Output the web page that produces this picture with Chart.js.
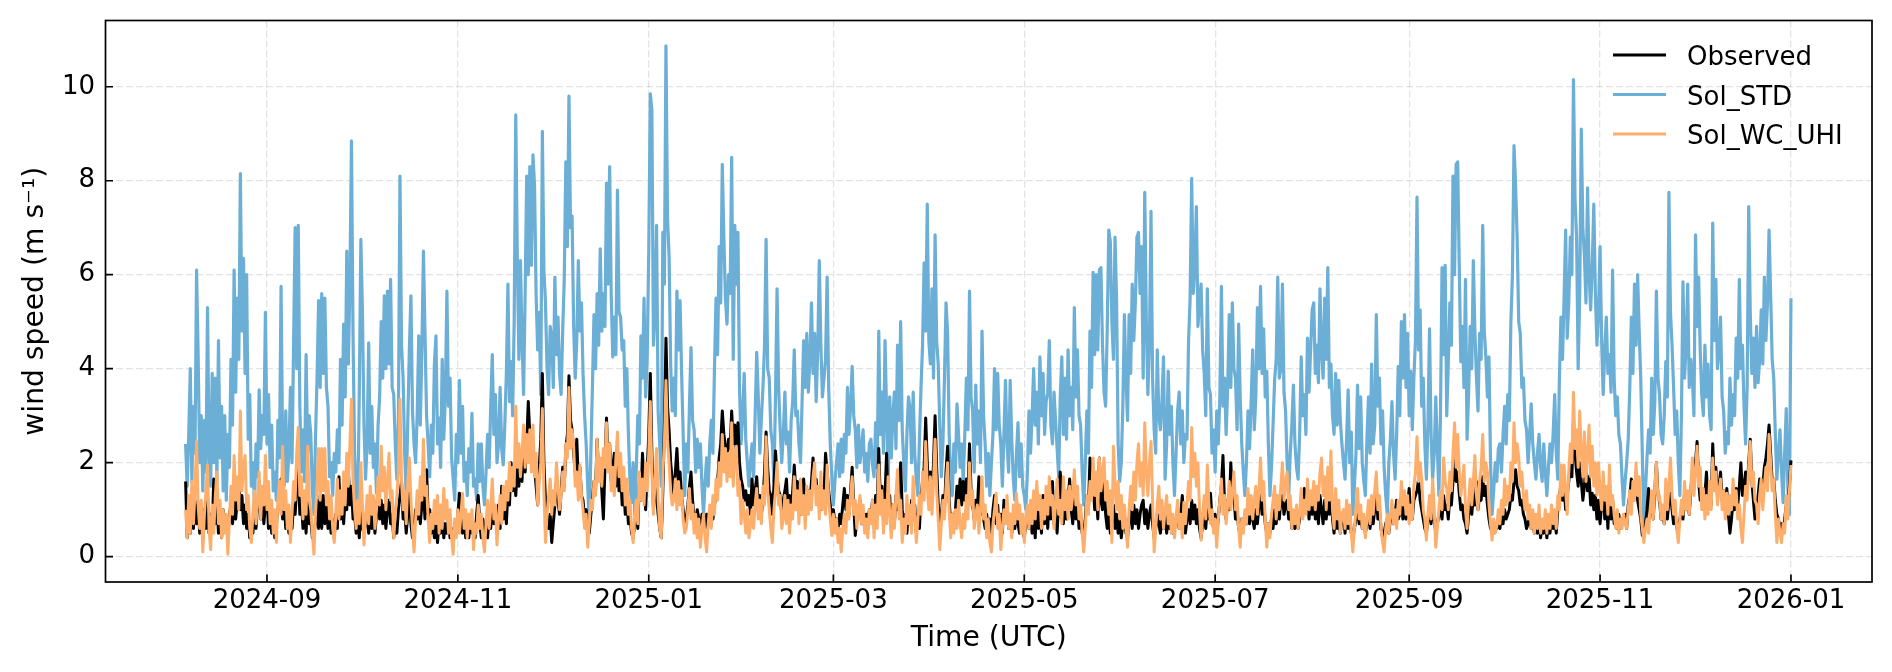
<!DOCTYPE html>
<html>
<head>
<meta charset="utf-8">
<script src="https://cdn.jsdelivr.net/npm/chart.js@4.4.1/dist/chart.umd.min.js"></script>
<style>
html,body{margin:0;padding:0;background:#fff;}
#wrap{width:1892px;height:672px;position:relative;}
</style>
</head>
<body>
<div id="wrap"><canvas id="c" width="1892" height="672"></canvas></div>
<script>
// ---------------- data (12-hourly values, first value 2024-08-06 00:00 UTC) ----------------
const seriesStart = '2024-08-06T00:00:00Z';
const stepHours = 12;
const seriesLabels = ['Observed', 'Sol_STD', 'Sol_WC_UHI'];
const xTickLabels = ['2024-09','2024-11','2025-01','2025-03','2025-05','2025-07','2025-09','2025-11','2026-01'];
const yTicks = [0, 2, 4, 6, 8, 10];

const obsWind = [
1.6,0.4,0.8,0.5,1.0,0.6,1.2,0.7,1.1,0.5,0.9,0.4,1.0,0.6,1.3,0.5,0.9,0.6,1.65,0.7,
1.2,0.5,0.9,0.4,1.0,0.6,0.8,0.4,0.9,1.1,0.7,1.3,0.8,1.2,1.65,1.0,1.3,0.7,1.1,0.6,
0.9,0.4,0.7,0.5,1.0,0.6,1.1,1.5,0.8,1.2,0.7,1.1,1.35,0.6,1.0,0.5,0.8,0.4,0.7,1.0,
1.3,1.65,0.8,1.2,0.6,1.0,0.5,0.8,0.6,1.1,0.9,1.5,1.9,0.9,1.2,0.6,1.0,0.5,1.3,0.7,
0.8,0.4,0.5,0.7,1.2,0.6,1.3,0.6,1.3,0.7,1.2,0.6,0.9,0.5,0.8,0.4,0.9,0.6,1.7,0.8,
1.2,0.7,1.3,1.0,1.85,1.1,1.5,0.8,0.9,0.5,0.8,0.4,1.1,0.6,0.5,0.7,1.0,0.5,0.9,0.6,
1.0,0.5,0.9,1.5,0.8,1.2,0.7,1.1,0.6,1.0,1.2,0.7,0.9,0.4,0.7,0.5,1.0,1.3,1.6,0.8,
1.0,0.5,0.9,1.35,0.7,0.4,0.6,1.0,0.8,1.2,0.7,1.1,1.4,0.8,1.85,0.9,1.0,0.5,0.8,0.4,
0.7,0.3,0.8,0.5,0.9,0.4,0.7,0.5,0.8,0.4,0.6,0.3,0.7,0.5,0.9,1.35,0.8,0.5,0.8,0.4,
0.7,0.4,0.8,0.5,0.7,0.4,0.9,1.3,0.7,0.4,0.8,0.5,0.6,0.4,0.9,0.6,1.2,0.7,1.0,0.5,
1.1,0.6,1.5,0.8,1.2,0.7,1.4,1.1,2.0,1.4,1.8,1.3,1.9,1.5,2.2,1.6,2.5,1.8,2.4,3.3,
2.6,2.0,2.4,1.9,1.5,1.1,1.9,2.5,3.9,2.0,1.2,0.8,0.6,0.9,0.3,0.7,1.1,1.6,1.2,0.9,
1.4,1.9,1.5,2.3,2.6,3.85,2.9,2.7,2.2,1.8,2.5,1.6,1.9,1.3,1.2,0.8,1.0,0.6,0.5,0.9,
1.2,1.6,1.4,2.5,1.7,2.0,1.4,0.8,1.9,2.95,2.0,2.4,1.6,1.9,2.2,1.5,2.1,1.4,1.8,1.1,
1.45,0.9,1.2,0.7,0.9,0.5,0.4,0.7,1.0,0.6,1.6,1.2,2.2,1.5,1.0,1.8,2.6,3.9,2.2,1.0,
1.5,1.3,0.9,0.6,0.4,1.4,2.8,4.65,3.2,2.7,2.0,1.65,1.3,1.8,2.3,1.6,1.8,1.3,1.0,0.7,
0.8,1.1,1.5,1.8,1.2,0.8,0.7,1.0,0.8,0.6,0.9,0.8,0.6,0.9,0.7,1.0,1.0,0.8,1.1,1.3,
1.6,2.1,2.4,3.1,2.6,2.35,2.0,2.5,2.3,3.1,2.4,2.8,2.2,2.85,2.0,1.65,1.5,1.2,1.4,1.1,
1.3,0.9,1.65,1.1,1.4,1.7,1.1,1.3,0.9,1.2,1.8,2.65,1.9,1.4,1.3,0.9,1.5,2.25,1.7,1.4,
1.3,0.9,1.2,1.4,1.65,1.0,1.3,0.8,1.4,1.95,1.4,1.6,1.3,0.9,1.2,1.65,1.2,1.0,1.4,1.1,
1.6,2.1,1.5,1.65,1.2,1.4,1.0,1.5,1.3,2.2,1.8,1.4,1.1,0.8,1.0,0.7,0.8,0.6,0.9,0.7,
1.1,1.45,1.0,1.3,0.9,1.4,1.9,1.1,0.45,0.8,1.0,1.2,0.7,0.9,0.6,0.9,0.7,1.0,0.8,1.2,
0.7,1.3,1.0,2.3,1.2,1.5,0.8,1.3,2.2,1.0,1.3,0.6,1.1,0.7,1.3,1.0,1.5,2.0,1.0,0.6,
0.9,0.5,1.0,0.7,1.2,0.8,1.1,0.5,0.9,0.6,1.3,1.6,1.9,2.95,2.0,1.3,1.8,1.2,2.0,3.0,
1.9,1.1,0.7,0.9,1.3,1.0,1.8,2.35,1.2,0.7,0.9,0.6,1.0,1.5,1.2,1.65,1.1,1.6,1.2,1.65,
1.3,2.4,1.4,1.1,0.8,1.2,1.0,1.7,0.9,1.3,0.8,0.6,0.9,0.5,0.8,0.5,1.0,1.3,0.7,1.1,
0.6,0.9,0.5,1.2,0.8,1.1,0.6,0.9,0.5,0.8,0.6,1.0,0.7,0.5,0.8,0.6,0.4,0.7,0.9,0.6,
1.0,0.5,0.9,0.4,1.2,0.6,1.0,0.5,1.3,0.7,1.1,0.6,1.4,0.8,1.6,0.7,1.0,0.5,1.2,1.8,
1.1,0.7,1.3,0.8,1.2,1.65,1.0,0.7,1.4,0.8,1.2,0.6,0.9,0.5,0.5,0.8,1.3,1.0,2.1,1.4,
1.6,1.0,1.4,0.8,2.1,1.2,1.0,1.65,0.9,0.6,1.0,0.5,0.8,1.1,0.6,0.9,0.5,0.8,0.4,0.7,
0.9,0.5,0.4,0.8,1.0,0.6,1.1,0.7,1.0,0.6,0.9,1.1,1.2,0.7,1.0,0.6,0.9,1.1,0.7,0.4,
0.6,0.9,0.7,0.5,0.8,0.6,0.9,0.5,0.8,0.6,0.9,0.5,0.6,0.8,1.0,0.6,0.9,1.3,0.8,0.5,
0.8,1.0,0.7,1.2,0.8,1.1,0.7,1.0,0.6,0.4,0.7,0.9,0.6,1.1,0.8,1.35,0.8,0.6,0.9,0.5,
0.8,1.2,1.5,2.15,1.1,0.8,1.2,1.0,2.0,1.2,1.3,0.8,1.0,0.6,0.5,0.8,0.6,0.9,0.7,1.0,
0.7,1.1,0.8,0.6,1.0,0.7,1.1,1.3,0.9,1.2,0.7,0.5,0.7,0.5,0.8,0.6,1.0,0.7,1.1,0.8,
1.2,1.3,0.9,1.1,1.2,0.8,1.0,0.6,0.8,0.6,0.9,0.6,0.8,1.1,0.9,1.45,1.0,1.3,0.8,1.2,
0.9,1.4,0.8,1.2,0.7,1.3,1.0,0.7,1.2,0.8,1.3,0.9,1.5,0.8,0.5,1.0,0.6,0.9,0.5,0.8,
0.9,0.5,1.0,0.6,0.9,0.5,0.4,0.6,0.8,1.1,0.7,0.9,0.6,0.8,0.5,0.7,1.0,0.6,0.9,0.7,
1.0,1.35,0.8,1.0,0.6,0.4,0.5,0.7,0.8,0.5,0.8,1.0,0.7,0.9,1.2,0.8,0.9,1.2,0.8,1.1,
0.8,1.1,1.45,0.9,0.8,1.2,1.3,1.4,1.65,1.2,1.0,0.8,0.6,0.5,0.8,1.0,0.7,1.1,0.8,0.5,
0.7,0.9,1.0,0.8,1.3,1.0,1.1,0.8,1.3,1.1,1.6,2.2,1.6,1.8,1.35,1.0,1.1,0.8,0.7,0.5,
0.9,1.2,0.9,1.3,1.1,1.6,1.0,1.3,1.2,1.7,1.3,1.5,1.1,0.8,0.6,0.7,0.5,0.7,0.6,0.8,
0.6,0.9,0.7,1.0,0.8,0.9,1.0,1.3,1.2,1.6,1.85,1.5,1.4,1.1,1.2,0.9,0.8,0.6,0.7,0.9,
0.6,0.8,0.5,0.7,0.5,0.8,0.4,0.7,0.5,0.8,0.4,0.7,0.5,0.9,0.6,0.8,0.5,1.0,1.2,1.6,
1.2,1.5,1.0,1.3,1.6,2.0,1.7,2.9,2.2,1.8,1.5,2.0,1.6,1.2,1.5,2.0,1.4,1.7,1.1,1.35,
1.0,1.3,0.8,1.2,0.7,1.1,1.45,0.8,1.3,0.6,1.45,0.8,1.2,0.7,0.9,0.6,0.9,0.6,0.8,0.7,
0.9,0.6,1.1,1.3,1.65,1.2,1.4,1.65,1.2,1.0,0.8,0.45,0.5,0.7,1.0,1.45,0.9,1.2,0.8,1.4,
2.0,1.3,1.2,0.8,0.9,0.7,1.1,0.8,1.2,1.35,1.0,0.7,0.9,0.6,0.6,0.8,1.0,0.8,1.35,1.0,
1.3,0.9,1.4,1.8,1.5,2.0,2.45,1.6,1.2,1.45,1.0,1.3,1.8,1.2,1.5,1.1,2.4,1.6,1.9,1.3,
1.5,1.8,1.2,1.4,1.0,1.45,0.9,0.5,0.8,1.2,1.0,1.45,1.1,1.5,2.0,1.3,1.5,1.8,1.4,2.0,
2.5,1.6,1.2,0.8,1.0,1.3,1.65,1.2,1.5,1.9,2.1,2.4,2.8,2.2,1.6,1.65,1.2,0.9,0.8,0.6,
0.7,0.5,0.8,1.1,1.0,1.5,2.05
];

const stdWind = [
2.4,1.5,2.6,4.0,1.6,3.2,2.2,6.1,4.3,2.0,3.0,1.4,2.9,1.8,5.3,2.2,1.5,3.9,2.0,3.8,
1.6,4.6,2.1,3.2,1.4,3.0,1.2,2.6,1.9,4.2,2.8,6.1,3.5,5.5,4.2,8.15,4.8,6.35,3.9,6.0,
2.5,3.45,1.5,2.0,1.1,2.4,1.7,3.55,2.3,3.0,2.6,5.2,2.4,3.45,1.9,2.8,1.4,1.8,1.2,2.9,
2.1,5.75,2.3,1.5,3.1,1.6,2.2,3.6,2.0,4.5,7.0,4.0,7.05,3.2,1.8,2.7,1.6,4.3,2.2,3.0,
2.6,1.4,0.9,2.5,3.8,5.45,3.6,5.6,3.9,5.5,3.6,3.2,1.7,2.0,1.3,2.2,1.8,2.7,2.0,4.2,
2.8,4.95,3.4,6.5,4.1,5.8,8.85,4.7,2.2,1.4,0.9,3.5,6.75,5.25,2.8,1.65,2.4,4.55,2.2,3.2,
1.9,2.4,1.35,2.8,3.4,5.0,3.8,5.55,4.0,5.65,4.1,5.9,3.6,3.45,2.4,1.65,2.9,8.1,4.5,3.8,
2.2,1.3,2.9,4.4,5.55,3.1,2.4,2.0,3.0,4.7,2.8,4.4,6.5,4.75,3.0,2.4,1.7,2.8,2.2,4.1,
4.7,2.4,2.95,1.9,4.2,2.5,3.4,5.65,3.2,3.8,2.1,1.65,1.2,2.6,2.0,3.75,2.2,3.2,1.6,2.0,
1.3,2.3,1.8,3.05,1.5,1.65,1.2,2.4,1.6,2.4,1.5,1.1,1.8,2.6,1.9,3.2,4.3,2.6,3.45,2.0,
2.4,3.6,2.3,1.95,2.8,3.9,5.8,3.3,4.15,3.0,5.0,9.4,6.35,4.2,6.3,4.6,3.45,5.6,8.1,6.0,
8.3,6.2,8.55,7.9,5.6,4.4,5.2,3.45,9.05,6.1,5.4,4.0,3.45,4.9,4.65,3.6,5.95,4.3,5.1,3.9,
3.45,4.8,5.9,8.4,6.6,9.8,7.0,7.25,4.9,3.8,4.6,6.3,4.8,5.4,3.9,3.0,2.4,1.5,0.65,2.2,
3.6,5.15,4.0,5.6,4.5,6.55,4.8,5.6,4.9,7.95,5.8,8.3,5.6,4.25,5.1,4.3,7.8,5.2,5.1,4.4,
4.6,3.2,4.0,2.6,1.6,1.15,2.0,0.9,1.8,3.0,2.4,4.7,3.8,5.5,3.4,4.2,6.5,9.85,9.5,4.5,
5.2,7.05,3.1,2.4,1.5,6.9,5.8,10.87,7.2,6.4,4.1,3.1,3.8,3.0,5.65,4.4,5.45,3.9,2.6,1.3,
2.4,1.8,3.2,4.45,2.9,2.7,1.8,2.5,1.9,2.4,1.5,0.9,1.6,2.1,1.5,2.4,2.9,2.2,4.0,5.5,
4.3,6.6,5.4,8.35,6.8,5.5,4.95,6.0,5.6,8.5,4.2,7.05,5.8,6.9,3.6,2.4,3.0,3.9,2.5,2.0,
1.5,2.0,2.4,1.7,3.0,4.35,3.4,2.2,2.95,3.6,4.5,6.75,4.0,3.8,2.7,2.4,1.6,3.4,5.7,3.6,
2.7,2.0,2.6,3.5,2.4,2.65,1.8,2.9,3.3,4.4,3.0,3.1,2.4,2.0,3.3,4.6,3.6,4.75,3.5,4.2,
5.4,3.9,4.75,3.3,4.4,6.3,4.5,3.4,3.8,4.2,5.95,3.6,2.4,1.7,1.1,1.6,2.0,2.4,1.7,2.5,
1.8,2.6,2.2,3.6,2.6,3.2,4.05,3.0,2.7,1.9,2.8,2.0,2.3,2.7,1.8,2.2,1.6,2.4,2.5,1.95,
1.7,2.85,1.9,4.8,2.6,3.5,2.2,4.6,3.1,1.6,3.4,2.1,3.0,3.5,2.3,4.5,2.9,5.0,2.7,2.0,
1.4,2.6,3.4,3.15,2.0,3.5,2.2,1.65,1.3,2.5,3.6,4.5,6.25,4.8,7.5,4.6,4.1,5.7,3.8,6.85,
4.6,4.1,2.8,1.7,2.4,3.8,5.4,4.75,2.6,1.65,1.3,2.4,1.8,3.25,2.6,1.9,2.4,1.6,2.6,3.8,
2.7,5.65,3.4,3.1,1.8,3.65,2.4,3.1,2.0,4.8,3.0,2.4,1.5,2.2,1.3,2.0,2.6,4.0,2.7,3.9,
2.8,2.4,1.5,2.6,3.75,2.4,1.8,3.75,2.5,1.65,1.2,2.2,2.85,1.7,2.4,1.5,1.3,1.0,1.8,3.1,
2.2,3.0,4.0,2.8,3.5,2.4,4.25,3.0,3.9,2.6,3.3,3.5,4.6,2.8,2.4,3.5,2.9,2.3,1.7,3.4,
4.25,2.6,3.8,2.5,4.4,3.0,3.6,2.7,5.3,3.4,4.4,3.0,2.8,1.8,1.1,2.0,3.1,2.2,4.8,3.6,
6.05,4.3,6.0,4.4,6.1,6.15,4.5,3.5,3.2,4.8,6.95,6.7,5.0,4.2,6.8,5.45,2.4,1.6,2.0,3.2,
5.15,3.8,2.9,5.15,3.9,5.8,4.6,5.4,6.8,6.9,5.6,6.6,3.8,7.75,5.0,3.45,4.6,7.35,3.8,2.7,
2.2,4.4,3.0,2.7,3.3,4.25,1.65,2.4,3.95,2.6,3.2,2.0,1.3,2.2,3.1,3.5,2.4,3.1,2.0,2.6,
2.5,4.6,5.5,8.05,5.6,6.2,7.45,4.9,5.45,5.8,4.4,3.9,3.0,5.7,3.6,3.45,2.2,2.7,1.8,3.1,
2.4,3.4,5.75,3.2,3.8,2.6,3.6,5.15,3.6,5.4,4.0,3.8,2.7,4.95,3.4,2.4,1.8,1.3,2.0,3.1,
2.3,3.3,4.4,2.7,3.4,5.3,4.0,5.75,3.9,4.85,3.4,3.95,2.4,1.3,1.9,2.8,3.75,4.2,5.95,3.8,
4.0,5.8,3.5,3.1,2.0,1.3,2.2,2.8,3.65,2.4,1.9,1.65,2.6,4.25,3.0,3.45,2.6,4.65,3.5,4.4,
5.25,5.4,3.9,4.5,3.7,5.7,4.4,3.8,5.5,4.2,6.15,3.6,4.1,3.0,2.6,3.9,2.8,3.75,2.9,2.4,
2.0,1.65,2.5,3.55,2.0,2.65,0.9,1.5,2.2,3.65,2.3,3.4,2.0,1.6,1.3,2.5,3.4,2.2,4.1,2.4,
2.8,5.15,3.2,3.8,2.4,3.1,1.9,1.3,0.9,2.0,2.5,3.3,2.2,1.65,2.6,4.05,3.0,5.0,3.8,5.15,
3.6,4.75,3.0,3.95,2.7,3.8,4.6,7.65,4.4,5.25,3.2,3.8,2.4,1.65,2.8,4.85,2.6,1.65,2.2,3.4,
2.3,1.3,3.0,6.15,4.3,6.2,3.0,4.1,5.4,4.5,8.1,6.0,8.35,8.4,6.2,4.15,4.9,3.6,5.9,2.5,
3.5,4.9,4.0,6.3,4.8,3.8,3.1,4.75,4.2,7.05,4.8,4.25,3.4,4.25,2.0,0.9,1.4,2.0,1.6,2.3,
2.4,1.8,2.6,3.2,2.4,3.45,2.9,5.0,6.0,8.75,7.9,6.8,5.0,4.75,3.6,3.8,2.9,2.7,2.0,2.6,
3.25,2.4,2.0,1.65,2.2,2.6,1.9,1.6,2.4,1.8,1.3,1.9,2.4,2.0,2.6,3.45,2.2,1.65,3.8,5.1,
4.2,5.5,6.95,4.65,5.4,6.8,6.0,10.15,7.6,6.8,4.0,5.6,9.1,7.0,6.4,5.4,7.85,6.0,5.25,6.2,
7.5,5.6,4.5,5.2,6.6,4.6,3.45,4.4,5.1,3.9,4.3,3.5,6.1,3.8,3.0,3.4,2.6,2.4,1.7,1.1,
1.6,2.0,2.5,3.6,5.1,3.9,5.8,4.5,6.0,4.8,3.8,2.2,0.65,1.4,2.1,2.7,2.2,3.8,2.6,3.3,
5.65,3.8,3.45,2.6,2.4,3.0,4.15,3.4,7.75,5.2,4.5,3.6,2.6,3.1,2.0,1.3,3.0,5.85,3.8,4.5,
5.8,3.6,4.2,3.8,3.0,6.85,4.9,5.95,4.4,3.45,3.0,4.5,3.4,4.1,3.0,2.7,7.1,4.6,5.9,4.0,
4.4,5.1,3.4,3.1,2.2,2.65,2.4,3.8,2.8,3.45,3.0,4.65,3.8,5.9,4.0,4.5,3.2,2.4,3.6,7.45,
5.2,3.9,4.65,3.6,4.9,3.7,4.2,5.25,4.1,5.95,4.6,5.4,6.95,5.6,4.2,3.8,2.6,1.65,2.2,2.7,
1.8,1.15,2.2,3.15,1.5,0.9,5.5
];

const uhiWind = [
1.0,0.4,1.3,0.5,1.6,0.7,1.4,2.45,1.1,0.6,1.2,0.1,0.9,1.4,1.95,0.6,0.15,1.1,0.5,1.3,
1.8,0.7,1.2,0.4,1.0,0.5,0.9,0.05,0.8,1.5,0.9,2.15,1.2,1.7,1.0,3.1,1.4,1.9,2.15,1.0,
1.3,0.6,0.3,0.9,1.4,0.7,1.2,1.8,0.8,1.5,1.1,2.15,1.0,1.6,0.7,1.2,0.5,1.0,0.3,1.2,
1.6,0.9,2.35,1.0,1.4,0.6,1.1,0.3,0.9,1.6,1.2,2.2,2.75,1.3,1.7,0.8,1.4,0.9,2.35,1.2,
1.0,0.5,0.05,0.9,1.5,2.3,1.2,2.3,1.4,2.3,1.1,1.6,0.8,1.3,0.6,0.3,0.9,1.65,0.8,1.4,
0.9,1.8,1.1,2.2,1.5,2.4,3.35,1.6,1.0,0.6,1.2,0.7,2.0,1.1,0.25,0.8,1.3,0.7,1.5,0.9,
1.3,0.6,1.0,1.7,1.1,2.35,1.4,1.9,1.0,1.6,2.2,1.2,1.4,0.4,0.9,1.3,1.8,3.35,1.6,1.0,
1.4,0.7,1.6,2.1,1.2,0.6,0.1,0.8,1.4,0.9,1.7,1.2,2.5,1.3,1.5,0.8,0.3,0.9,0.6,1.2,
0.7,1.3,0.5,1.1,0.6,1.45,0.8,1.2,0.5,1.0,0.4,0.05,0.8,0.4,1.0,0.5,0.9,1.35,0.6,1.0,
0.4,0.9,0.6,1.0,0.15,0.7,0.5,1.1,0.6,0.9,0.4,0.1,0.7,1.2,0.6,1.0,1.65,0.8,1.1,0.25,
0.8,1.3,0.7,1.5,1.0,1.6,1.2,2.0,1.4,1.9,1.5,3.2,1.9,2.4,1.7,2.2,2.8,1.9,2.6,2.0,
2.7,1.8,2.8,1.7,2.2,1.1,1.6,2.0,3.15,1.4,0.3,0.9,1.3,1.65,0.9,1.4,1.1,2.0,1.5,1.0,
1.3,1.8,1.4,2.4,2.1,3.6,2.3,2.7,2.35,1.5,1.8,1.2,1.95,1.3,1.0,0.6,0.9,0.2,0.7,1.2,
1.0,1.6,1.3,2.5,1.6,2.1,1.5,2.3,1.9,2.85,1.8,2.4,1.4,1.9,1.3,2.1,2.65,1.7,2.2,1.4,
1.9,1.1,1.65,0.9,1.2,0.6,0.3,0.8,1.2,0.7,1.8,1.2,1.65,1.1,2.0,1.4,2.2,3.3,1.8,0.9,
1.6,2.3,1.2,0.6,0.4,1.8,2.4,3.75,2.5,2.0,1.4,1.1,1.2,1.65,1.0,1.6,1.1,1.4,0.8,0.5,
0.6,1.0,1.45,0.8,1.1,0.5,0.9,0.4,0.8,0.2,0.6,0.9,0.4,0.1,0.7,1.1,0.6,1.3,0.9,1.65,
1.2,2.0,1.5,2.6,1.8,2.3,1.6,2.2,1.7,2.85,1.5,2.2,2.35,1.3,1.6,0.7,1.2,0.9,0.5,1.0,
0.4,0.65,1.0,0.6,1.1,1.45,0.8,1.2,0.7,1.5,1.1,2.55,1.4,1.0,0.6,0.3,1.0,1.4,2.0,1.1,
1.3,0.6,0.8,1.3,0.7,1.2,0.5,1.1,0.8,1.7,1.0,1.4,0.7,1.65,0.9,1.3,0.6,1.5,0.9,1.4,
1.0,1.7,2.0,1.1,1.5,0.8,1.8,1.0,1.4,0.9,1.95,1.2,0.8,0.45,0.9,0.5,0.8,0.3,0.6,0.1,
0.6,0.9,0.5,1.2,0.8,1.3,1.7,0.9,1.2,0.6,1.0,1.3,0.7,1.1,0.5,0.8,0.4,1.0,0.7,1.2,
0.4,1.1,0.6,1.95,0.9,1.4,0.5,1.2,0.7,1.7,0.9,0.4,1.1,0.6,1.3,1.85,0.8,1.2,0.3,0.8,
0.5,1.3,0.7,1.1,0.5,1.7,0.9,0.3,0.8,1.3,0.9,1.8,1.2,2.45,1.5,1.0,1.7,0.9,1.6,2.5,
1.4,0.8,0.15,0.7,1.2,0.8,1.5,2.0,1.0,0.4,0.9,0.5,1.0,0.6,1.2,0.7,0.4,0.9,0.6,1.3,
0.8,2.0,1.1,1.4,0.6,0.9,1.1,0.5,1.0,1.7,0.8,1.1,0.4,0.8,0.3,0.1,0.7,1.0,1.35,0.6,
0.9,0.15,0.6,1.0,0.7,1.3,0.6,0.9,0.4,1.1,0.7,1.35,0.8,1.1,0.5,0.9,0.3,0.8,1.1,0.6,
1.2,0.7,1.4,0.8,1.6,1.0,1.3,0.6,1.2,0.8,1.5,0.9,1.7,1.1,1.3,0.6,1.1,1.65,0.9,1.2,
0.7,1.7,1.0,1.4,0.8,1.5,1.0,1.3,1.85,1.1,1.5,0.8,1.1,0.5,0.1,0.6,1.3,0.9,1.6,1.2,
2.1,1.3,1.8,1.0,2.1,1.4,1.7,2.1,1.2,1.6,0.9,1.4,0.3,2.35,1.5,1.0,1.6,0.8,1.3,0.6,
1.1,0.6,0.2,1.0,1.5,1.0,1.8,1.2,2.0,2.4,1.5,2.0,1.3,2.85,1.8,1.3,2.0,2.45,1.2,0.1,
0.6,1.1,1.5,0.8,1.2,0.6,1.0,1.3,0.7,1.1,0.5,0.9,0.4,0.8,1.2,0.6,0.9,0.4,1.15,0.7,
1.1,1.6,1.2,2.75,1.7,2.2,1.5,2.0,1.0,0.35,0.9,1.3,0.8,1.95,1.1,0.7,1.0,0.5,0.8,0.2,
0.8,1.2,1.65,0.9,1.3,0.7,1.1,1.6,1.0,1.4,1.8,1.0,1.3,0.6,0.2,0.8,0.5,1.0,0.7,1.45,
0.9,1.3,0.8,1.2,1.5,0.9,1.4,2.1,1.2,1.6,0.8,0.2,0.7,0.4,0.9,1.2,1.5,0.8,1.3,1.0,
1.5,2.0,1.2,1.6,1.8,1.0,1.3,0.6,1.0,0.7,1.1,0.6,0.9,1.45,0.8,1.2,0.9,1.65,1.0,1.4,
1.1,1.6,1.0,1.5,1.2,1.8,2.1,1.3,1.7,1.0,1.9,1.2,2.25,1.0,0.6,1.45,0.8,1.2,0.5,0.9,
1.0,0.6,1.2,0.7,1.1,0.5,0.1,0.6,1.0,1.45,0.8,1.1,0.6,0.9,0.4,0.8,1.2,0.7,1.3,0.9,
1.4,1.8,1.0,1.3,0.6,0.3,0.1,0.6,0.9,0.5,0.9,1.2,0.7,1.0,0.6,1.2,0.9,1.6,1.1,1.4,
0.9,1.3,0.7,1.1,0.8,1.5,1.8,2.55,1.6,2.0,1.65,1.0,0.8,0.35,0.9,1.3,0.8,1.65,1.0,0.2,
0.6,1.0,1.4,1.0,2.1,1.6,1.45,1.0,1.8,1.4,2.2,2.85,1.9,2.6,1.8,1.3,1.6,1.95,1.0,0.6,
1.2,1.65,1.1,1.6,2.15,1.3,1.0,1.6,1.9,2.6,1.6,2.0,1.8,1.1,0.7,0.35,0.8,0.5,0.65,1.0,
0.7,1.2,0.9,1.65,1.1,1.5,1.2,2.0,1.6,2.85,2.0,2.4,2.1,1.5,1.8,1.3,1.0,1.4,0.8,1.1,
0.6,1.0,0.5,0.9,0.6,1.1,0.5,0.8,0.6,1.0,0.5,0.9,0.6,1.1,0.7,1.0,0.6,1.3,1.0,1.95,
1.3,1.95,1.4,0.9,1.8,2.4,2.0,3.5,2.3,2.7,1.9,3.1,2.2,1.7,2.65,1.6,2.2,2.8,1.7,2.35,
1.5,2.0,1.3,2.0,1.4,1.0,1.8,1.2,1.5,0.9,1.95,1.1,1.3,0.9,0.6,1.0,0.5,0.8,0.6,0.9,
0.7,0.6,1.0,1.4,0.9,1.6,1.2,2.0,1.3,1.7,0.9,0.6,0.3,0.6,0.8,0.5,1.0,1.4,0.8,1.5,
2.0,1.2,1.3,0.8,1.1,0.7,1.65,1.0,1.5,2.1,1.3,0.9,1.2,0.6,0.3,0.8,1.2,0.9,1.6,1.0,
1.4,0.9,1.5,2.1,1.3,1.8,2.35,1.5,1.9,1.0,1.45,0.8,1.3,0.9,1.6,1.0,2.1,1.4,1.8,1.1,
1.4,1.65,1.0,1.4,0.8,1.35,0.9,1.3,1.0,1.65,1.1,1.4,0.8,1.1,0.6,0.3,0.9,1.5,1.2,1.9,
2.45,1.5,1.8,1.2,1.1,0.7,1.3,1.65,1.0,1.5,1.9,1.4,2.6,2.0,1.4,1.65,0.9,0.3,0.8,0.5,
0.3,0.7,0.5,1.3,0.8,1.4,1.95
];

// ---------------- chart ----------------
const DAY = 86400000;
const t0 = Date.parse(seriesStart);
const toPoints = arr => arr.map((v, i) => ({ x: t0 + i * stepHours * 3600000, y: v }));
const monthMs = s => { const p = s.split('-').map(Number); return Date.UTC(p[0], p[1] - 1, 1); };
const xTickMs = xTickLabels.map(monthMs);
const X_MIN = monthMs('2024-09') - 51.6 * DAY;
const X_MAX = monthMs('2026-01') + 25.9 * DAY;
const Y_MIN = -0.54, Y_MAX = 11.41;

const FONT_FAMILY = "'DejaVu Sans', sans-serif";
const FS = 26;      // tick labels and legend
const FS_T = 28.2;  // axis titles
Chart.defaults.font.family = FONT_FAMILY;
Chart.defaults.color = '#000';

const colors = ['#000000', '#6baed6', '#fdae6b'];

const framePlugin = {
  id: 'mplFrame',
  afterDraw(chart) {
    const { ctx, chartArea: a, scales: { x, y } } = chart;
    ctx.save();
    ctx.strokeStyle = '#000';
    ctx.lineWidth = 1.7;
    ctx.lineCap = 'butt';
    ctx.beginPath();
    y.ticks.forEach(t => { const p = y.getPixelForValue(t.value); ctx.moveTo(a.left, p); ctx.lineTo(a.left + 7.5, p); });
    x.ticks.forEach(t => { const p = x.getPixelForValue(t.value); ctx.moveTo(p, a.bottom); ctx.lineTo(p, a.bottom - 7.5); });
    ctx.stroke();
    ctx.strokeRect(a.left, a.top, a.right - a.left, a.bottom - a.top);

    // legend inside the axes (upper right, no frame)
    ctx.font = FS + 'px ' + FONT_FAMILY;
    ctx.textAlign = 'left';
    ctx.textBaseline = 'alphabetic';
    const lx0 = a.right - 259, lx1 = a.right - 206, tx = a.right - 185;
    chart.data.datasets.forEach((ds, i) => {
      const yb = a.top + 44.5 + i * 39.5;
      const yl = yb - 10;
      ctx.strokeStyle = ds.borderColor;
      ctx.lineWidth = 3.2;
      ctx.beginPath(); ctx.moveTo(lx0, yl); ctx.lineTo(lx1, yl); ctx.stroke();
      ctx.fillStyle = '#000';
      ctx.fillText(ds.label, tx, yb);
    });
    ctx.restore();
  }
};

const mkDs = (label, arr, color, order, w) => ({
  label, data: toPoints(arr), borderColor: color, backgroundColor: color,
  borderWidth: w, pointRadius: 0, pointHoverRadius: 0, fill: false, tension: 0,
  borderJoinStyle: 'round', order
});

new Chart(document.getElementById('c'), {
  type: 'line',
  data: {
    datasets: [
      mkDs(seriesLabels[0], obsWind, colors[0], 2, 3.0),
      mkDs(seriesLabels[1], stdWind, colors[1], 3, 3.2),
      mkDs(seriesLabels[2], uhiWind, colors[2], 1, 3.0)
    ]
  },
  options: {
    responsive: false,
    animation: false,
    events: [],
    layout: { autoPadding: false, padding: { left: 0, right: 20, top: 20.5, bottom: 0 } },
    plugins: { legend: { display: false }, tooltip: { enabled: false } },
    scales: {
      x: {
        type: 'linear', min: X_MIN, max: X_MAX, bounds: 'data',
        afterBuildTicks: s => { s.ticks = xTickMs.map(v => ({ value: v })); },
        afterFit: s => { s.height = 90; s.paddingLeft = 0; s.paddingRight = 0; },
        ticks: { autoSkip: false, maxRotation: 0, padding: 4, font: { size: FS }, color: '#000',
                 callback: (v, i) => xTickLabels[i] },
        grid: { color: 'rgba(0,0,0,0.11)', lineWidth: 1.3, drawTicks: false },
        border: { display: false, dash: [7, 3] },
        title: { display: true, text: 'Time (UTC)', font: { size: FS_T }, color: '#000', padding: { top: 0, bottom: 16.6 } }
      },
      y: {
        type: 'linear', min: Y_MIN, max: Y_MAX, bounds: 'data',
        afterBuildTicks: s => { s.ticks = yTicks.map(v => ({ value: v })); },
        afterFit: s => { s.width = 105.5; s.paddingTop = 0; s.paddingBottom = 0; },
        ticks: { padding: 10.5, font: { size: FS }, color: '#000', callback: v => String(v) },
        grid: { color: 'rgba(0,0,0,0.11)', lineWidth: 1.3, drawTicks: false },
        border: { display: false, dash: [7, 3] },
        title: { display: true, text: 'wind speed (m s\u207B\u00B9)', font: { size: FS_T }, color: '#000', padding: { top: 19.2, bottom: 0 } }
      }
    }
  },
  plugins: [framePlugin]
});
</script>
</body>
</html>
